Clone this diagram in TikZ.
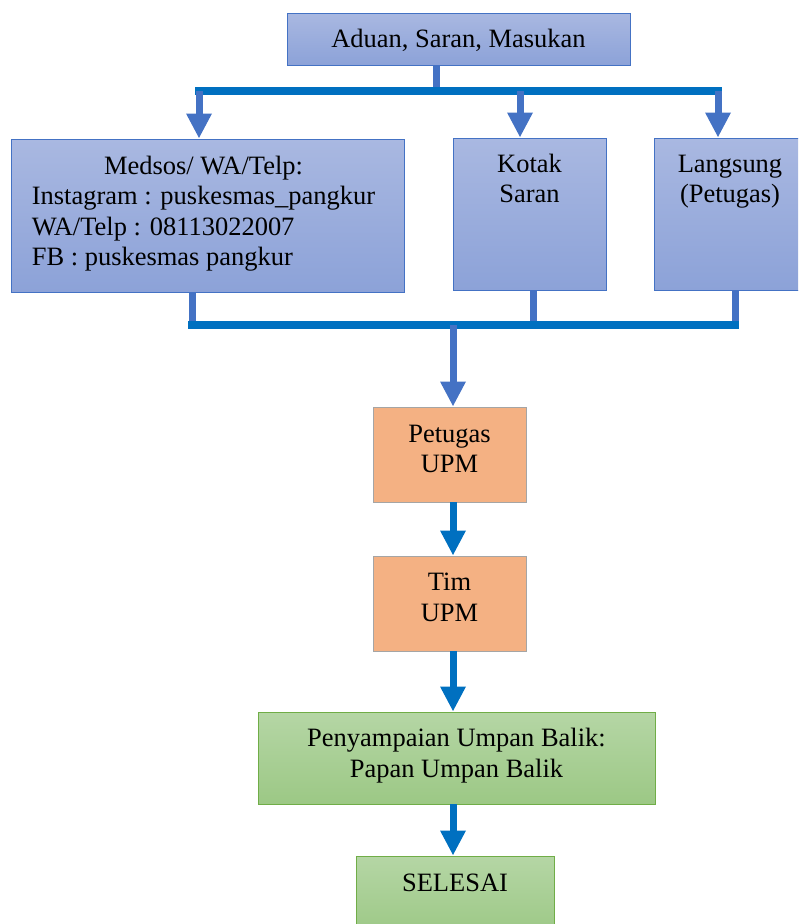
\documentclass[tikz,border=0pt]{standalone}
\usepackage{fontspec}
\setmainfont{Liberation Serif}
\usetikzlibrary{arrows.meta}
\definecolor{accblue}{HTML}{4472C4}
\definecolor{busblue}{HTML}{0070C0}
\definecolor{bluetop}{HTML}{A9B8E1}
\definecolor{bluebot}{HTML}{8CA2D8}
\definecolor{upmorange}{HTML}{F4B183}
\definecolor{upmgray}{HTML}{A5A5A5}
\definecolor{greentop}{HTML}{B5D6A5}
\definecolor{greenbot}{HTML}{9CC885}
\definecolor{greenline}{HTML}{70AD47}
\newcommand\pxl{0.03cm}
\newcommand\boxlines[2][c]{\begin{tabular}[t]{@{}#1@{}}#2\end{tabular}}

\begin{document}
\begin{tikzpicture}[x=0.03cm, y=-0.03cm,
    bluebox/.style={draw=accblue, line width=0.8pt, top color=bluetop, bottom color=bluebot},
    orangebox/.style={draw=upmgray, line width=0.8pt, fill=upmorange},
    greenbox/.style={draw=greenline, line width=0.8pt, top color=greentop, bottom color=greenbot},
    lbl/.style={anchor=base, inner sep=0pt, font=\fontsize{22.6}{26}\selectfont},
    riser/.style={accblue, line width=7*\pxl},
    busline/.style={busblue, line width=8*\pxl, line cap=rect},
    flow/.style={riser, -{Triangle[width=0.72cm, length=0.75cm]}},
    flowdark/.style={busblue, line width=7*\pxl, -{Triangle[width=0.72cm, length=0.75cm]}}]
\useasboundingbox (0,0) rectangle (798,924);
\clip (0,0) rectangle (798,924);

\node[bluebox, minimum width=343*\pxl, minimum height=52*\pxl]  (aduan)    at (458.5, 39)   {};
\node[bluebox, minimum width=393*\pxl, minimum height=153*\pxl] (medsos)   at (207.5,215.5) {};
\node[bluebox, minimum width=153*\pxl, minimum height=152*\pxl] (kotak)    at (529.5,214)   {};
\node[bluebox, minimum width=152*\pxl, minimum height=152*\pxl] (langsung) at (730  ,214)   {};
\node[orangebox, minimum width=153*\pxl, minimum height=95*\pxl] (petugas)  at (449.5,454.5) {};
\node[orangebox, minimum width=153*\pxl, minimum height=95*\pxl] (tim)      at (449.5,603.5) {};
\node[greenbox, minimum width=397*\pxl, minimum height=92*\pxl]  (umpan)    at (456.5,758)   {};
\node[greenbox, minimum width=198*\pxl, minimum height=80*\pxl]  (selesai)  at (455  ,896)   {};

\node[lbl] (aduantxt)    at ([yshift=-35*\pxl]aduan.north)    {\boxlines{Aduan, Saran, Masukan}};
\node[lbl] (medsostxt)   at ([xshift=-4*\pxl,yshift=-36*\pxl]medsos.north)
    {\boxlines[l]{\multicolumn{1}{@{}c@{}}{Medsos/ WA/Telp:}\\Instagram : puskesmas\_pangkur\\WA/Telp : 08113022007\\FB : puskesmas pangkur}};
\node[lbl] (kotaktxt)    at ([yshift=-35*\pxl]kotak.north)    {\boxlines{Kotak\\Saran}};
\node[lbl] (langsungtxt) at ([yshift=-35*\pxl]langsung.north) {\boxlines{Langsung\\(Petugas)}};
\node[lbl] (petugastxt)  at ([yshift=-36*\pxl]petugas.north)  {\boxlines{Petugas\\UPM}};
\node[lbl] (timtxt)      at ([yshift=-35*\pxl]tim.north)      {\boxlines{Tim\\UPM}};
\node[lbl] (umpantxt)    at ([yshift=-35*\pxl]umpan.north)    {\boxlines{Penyampaian Umpan Balik:\\Papan Umpan Balik}};
\node[lbl] (selesaitxt)  at ([yshift=-36*\pxl]selesai.north)  {\boxlines{SELESAI}};

\coordinate (t0) at (436,91);
\coordinate (t1) at (199,91);
\coordinate (t2) at (520,91);
\coordinate (t3) at (718,91);
\coordinate (b0) at (453,325);
\coordinate (b1) at (192,325);
\coordinate (b2) at (533,325);
\coordinate (b3) at (735,325);

\draw[riser] (t0 |- aduan.south) -- (t0);
\draw[busline] (t1) -- (t3);
\draw[flow] (t1) -- (t1 |- medsos.north);
\draw[flow] (t2) -- (t2 |- kotak.north);
\draw[flow] (t3) -- (t3 |- langsung.north);

\draw[riser] (b1 |- medsos.south) -- (b1);
\draw[riser] (b2 |- kotak.south) -- (b2);
\draw[riser] (b3 |- langsung.south) -- (b3);
\draw[busline] (b1) -- (b3);
\draw[flow] (b0) -- (b0 |- petugas.north);

\draw[flowdark] (b0 |- petugas.south) -- (b0 |- tim.north);
\draw[flowdark] (b0 |- tim.south) -- (b0 |- umpan.north);
\draw[flowdark] (b0 |- umpan.south) -- (b0 |- selesai.north);
\end{tikzpicture}
\end{document}
